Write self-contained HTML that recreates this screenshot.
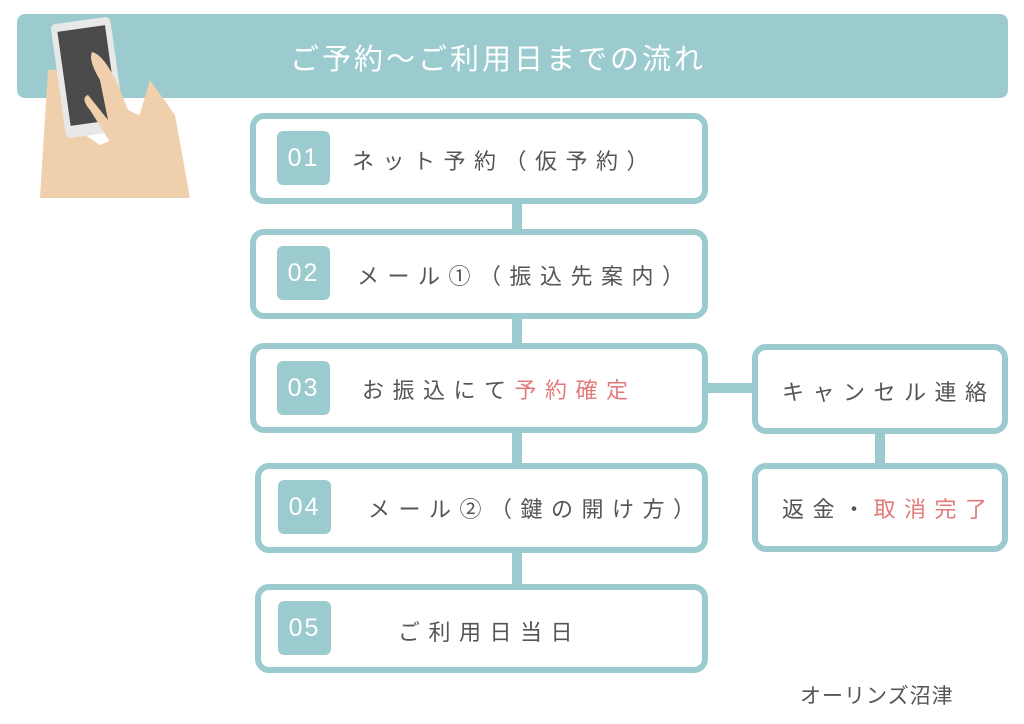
<!DOCTYPE html>
<html><head><meta charset="utf-8"><style>
body{margin:0;width:1024px;height:724px;background:#fff;position:relative;overflow:hidden;font-family:"Liberation Sans","Noto Sans CJK JP",sans-serif}
.a{position:absolute;box-sizing:border-box}
.bar{left:17px;top:14px;width:991px;height:84px;background:#9bcbcf;border-radius:8px}
.title{left:290px;top:36px;color:#fff;font-size:29px;letter-spacing:3px;white-space:nowrap}
.box{border:6px solid #9bcbcf;border-radius:14px;background:#fff}
.num{width:53px;height:54px;background:#9bcbcf;border-radius:6px;color:#fff;font-size:25px;text-align:center;line-height:54px;letter-spacing:2px}
.t{color:#555;font-size:22px;white-space:nowrap;letter-spacing:8.5px}
.r{color:#e27a7a}
.c{background:#9bcbcf}
</style></head><body>
<div class="a bar"></div>
<div class="a title">ご予約〜ご利用日までの流れ</div>
<svg class="a" style="left:30px;top:10px" width="170" height="195" viewBox="0 0 170 195">
<path d="M18 60 L28 60 L40 115 L70 135 L105 120 L120 70 L145 105 L160 188 L10 188 Z" fill="#f0cfad"/>
<rect x="28" y="10" width="60" height="115" rx="5" fill="#e8e8e8" transform="rotate(-8 58 67)"/>
<rect x="34" y="18" width="48" height="95" fill="#4a4a4a" transform="rotate(-8 58 67)"/>
<path d="M62 42 Q75 45 90 80 L98 100 L120 110 L135 130 L140 188 L95 188 L85 140 L60 100 Q50 88 58 85 L78 110 L70 70 Q58 50 62 42Z" fill="#f0cfad"/>
</svg>
<div class="a c" style="left:512px;top:200px;width:10px;height:420px"></div>
<div class="a c" style="left:705px;top:383px;width:50px;height:10px"></div>
<div class="a c" style="left:875px;top:430px;width:10px;height:36px"></div>

<div class="a box" style="left:250px;top:113px;width:458px;height:91px"></div>
<div class="a num" style="left:277px;top:131px">01</div>
<div class="a t" style="left:352px;top:144px">ネット予約（仮予約）</div>

<div class="a box" style="left:250px;top:229px;width:458px;height:90px"></div>
<div class="a num" style="left:277px;top:246px">02</div>
<div class="a t" style="left:357px;top:259px">メール①（振込先案内）</div>

<div class="a box" style="left:250px;top:343px;width:458px;height:90px"></div>
<div class="a num" style="left:277px;top:361px">03</div>
<div class="a t" style="left:362px;top:373px">お振込にて<span class="r">予約確定</span></div>

<div class="a box" style="left:255px;top:463px;width:453px;height:90px"></div>
<div class="a num" style="left:278px;top:480px">04</div>
<div class="a t" style="left:368px;top:492px">メール②（鍵の開け方）</div>

<div class="a box" style="left:255px;top:584px;width:453px;height:89px"></div>
<div class="a num" style="left:278px;top:601px">05</div>
<div class="a t" style="left:398px;top:615px">ご利用日当日</div>

<div class="a box" style="left:752px;top:344px;width:256px;height:90px"></div>
<div class="a t" style="left:782px;top:375px">キャンセル連絡</div>
<div class="a box" style="left:752px;top:463px;width:256px;height:89px"></div>
<div class="a t" style="left:782px;top:492px">返金・<span class="r">取消完了</span></div>

<div class="a" style="left:800px;top:680px;color:#555;font-size:21px;letter-spacing:1px;white-space:nowrap">オーリンズ沼津</div>
</body></html>
